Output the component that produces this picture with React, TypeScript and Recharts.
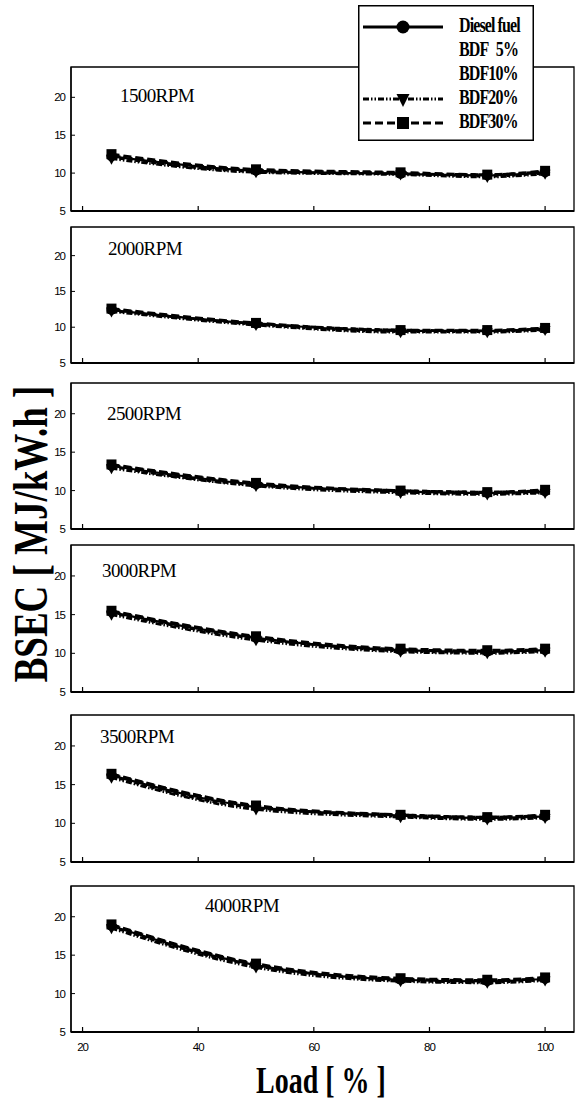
import React from "react"
import { LineChart, Line, XAxis, YAxis, Legend, ReferenceArea } from "recharts"

const loads = [25, 50, 75, 90, 100]
const fuels = ["Diesel fuel", "BDF 5%", "BDF10%", "BDF20%", "BDF30%"]
const rpmLabels = ["1500RPM", "2000RPM", "2500RPM", "3000RPM", "3500RPM", "4000RPM"]
const xTicks = [20, 40, 60, 80, 100]
const yTicks = [5, 10, 15, 20]

// BSEC [MJ/kW.h], one row per fuel (same order as `fuels`), one column per load
const bsec1500 = [
  [12.2, 10.3, 9.9, 9.7, 10.1],
  [12.3, 10.4, 10.0, 9.6, 10.0],
  [12.1, 10.2, 9.9, 9.8, 10.2],
  [11.9, 10.1, 9.8, 9.5, 9.9],
  [12.5, 10.5, 10.1, 9.8, 10.3],
]
const bsec2000 = [
  [12.4, 10.5, 9.5, 9.5, 9.8],
  [12.5, 10.4, 9.4, 9.4, 9.7],
  [12.3, 10.5, 9.6, 9.5, 9.8],
  [12.2, 10.3, 9.3, 9.3, 9.6],
  [12.6, 10.6, 9.6, 9.6, 9.9],
]
const bsec2500 = [
  [13.2, 10.8, 9.9, 9.7, 9.9],
  [13.3, 10.9, 9.8, 9.6, 9.8],
  [13.1, 10.7, 10.0, 9.8, 10.0],
  [12.9, 10.6, 9.7, 9.5, 9.7],
  [13.4, 11.0, 10.0, 9.8, 10.1],
]
const bsec3000 = [
  [15.3, 12.0, 10.4, 10.2, 10.4],
  [15.4, 12.1, 10.3, 10.1, 10.3],
  [15.2, 11.9, 10.5, 10.3, 10.5],
  [15.0, 11.7, 10.2, 10.0, 10.2],
  [15.5, 12.2, 10.6, 10.4, 10.6],
]
const bsec3500 = [
  [16.2, 12.1, 11.0, 10.7, 10.9],
  [16.3, 12.2, 10.9, 10.6, 10.8],
  [16.1, 12.0, 11.1, 10.8, 11.0],
  [15.9, 11.8, 10.8, 10.5, 10.7],
  [16.4, 12.3, 11.1, 10.8, 11.1],
]
const bsec4000 = [
  [18.8, 13.7, 11.8, 11.6, 11.9],
  [18.9, 13.8, 11.7, 11.5, 11.8],
  [18.7, 13.6, 11.9, 11.7, 12.0],
  [18.5, 13.4, 11.6, 11.4, 11.7],
  [19.0, 13.9, 12.0, 11.8, 12.1],
]
const panelData = [bsec1500, bsec2000, bsec2500, bsec3000, bsec3500, bsec4000]

const X_DOMAIN = [18, 105]
const Y_DOMAIN = [5, 24]

// panel frames on the page (plot box top / bottom) and label spots
const panelTops = [67, 227, 383, 545, 715, 886]
const panelBottoms = [211, 363, 529, 692, 862, 1032]
const labelPos = [
  [120, 35],
  [108, 28],
  [107, 37],
  [102, 32],
  [100, 28],
  [205, 26],
]

const W = 576
const PLOT_LEFT = 71
const PLOT_RIGHT = 574

const squareDot = (p: any) => (
  <rect key={`sq-${p.index}`} x={p.cx - 5} y={p.cy - 5} width={10} height={10} fill="#000" />
)
const triDot = (p: any) => (
  <path
    key={`tr-${p.index}`}
    d={`M${p.cx - 5.5},${p.cy - 4}L${p.cx + 5.5},${p.cy - 4}L${p.cx},${p.cy + 6}Z`}
    fill="#000"
  />
)

const seriesStyle = [
  { dash: undefined, dot: { r: 5, fill: "#000", stroke: "#000", strokeWidth: 0 } as any },
  { dash: "3 3", dot: false as any },
  { dash: "5 3", dot: false as any },
  { dash: "6 2 1.5 2 1.5 2", dot: triDot as any },
  { dash: "8 4", dot: squareDot as any },
]

const YTick = (props: any) => {
  const { x, y, payload } = props
  const ax = x + 5
  return (
    <g>
      <line x1={ax} x2={ax + 4} y1={y} y2={y} stroke="#000" strokeWidth={1} />
      <text
        x={x - 1}
        y={y}
        dy={4}
        textAnchor="end"
        fontFamily="'Liberation Sans', Arial, sans-serif"
        fontSize={11.5}
        letterSpacing={-1}
        fill="#000"
      >
        {payload.value}
      </text>
    </g>
  )
}

const makeXTick = (showLabel: boolean) => (props: any) => {
  const { x, y, payload } = props
  const ay = y - 8
  return (
    <g>
      <line x1={x} x2={x} y1={ay} y2={ay - 5} stroke="#000" strokeWidth={1.2} />
      {showLabel && (
        <text
          x={x}
          y={ay + 19}
          textAnchor="middle"
          fontFamily="'Liberation Sans', Arial, sans-serif"
          fontSize={11.5}
          letterSpacing={-1}
          fill="#000"
        >
          {payload.value}
        </text>
      )}
    </g>
  )
}

const LegendBox = () => {
  const rowY = [22, 46, 70, 94, 118]
  return (
    <svg width={176} height={136} style={{ display: "block" }}>
      <rect x={0.75} y={0.75} width={174.5} height={134.5} fill="#fff" stroke="#000" strokeWidth={1.5} />
      {fuels.map((f, i) => {
        const s = seriesStyle[i]
        const cy = rowY[i]
        const showLine = i === 0 || i >= 3
        return (
          <g key={f}>
            {showLine && (
              <line x1={5} x2={85} y1={cy} y2={cy} stroke="#000" strokeWidth={3} strokeDasharray={s.dash} />
            )}
            {i === 0 && <circle cx={45} cy={cy} r={6.5} fill="#000" />}
            {i === 3 && <path d={`M${38.5},${cy - 5}L${51.5},${cy - 5}L45,${cy + 8}Z`} fill="#000" />}
            {i === 4 && <rect x={39} y={cy - 6} width={12} height={12} fill="#000" />}
            <text
              transform={`translate(101,${cy + 5}) scale(1,1.3)`}
              fontFamily="'Liberation Serif', 'Times New Roman', serif"
              fontWeight="bold"
              fontSize={16}
              letterSpacing={-0.9}
              wordSpacing={i === 1 ? 5 : 0}
              fill="#000"
            >
              {f}
            </text>
          </g>
        )
      })}
    </svg>
  )
}

function Panel({ idx }: { idx: number }) {
  const rows = panelData[idx]
  const data = loads.map((load, i) => {
    const row: Record<string, number> = { load }
    rows.forEach((r, k) => {
      row[`f${k}`] = r[i]
    })
    return row
  })
  const pTop = panelTops[idx]
  const pBottom = panelBottoms[idx]
  const chartTop = idx === 0 ? 0 : pTop - 6
  const height = pBottom - chartTop + 30
  const isLast = idx === panelData.length - 1
  const [lx, ly] = labelPos[idx]

  return (
    <div style={{ position: "absolute", left: 0, top: chartTop, width: W, height }}>
      <LineChart
        width={W}
        height={height}
        data={data}
        margin={{ top: pTop - chartTop, right: W - PLOT_RIGHT, bottom: 8, left: 0 }}
      >
        <XAxis
          dataKey="load"
          type="number"
          domain={X_DOMAIN}
          ticks={xTicks}
          allowDataOverflow
          height={22}
          tickSize={0}
          tickMargin={8}
          tickLine={false}
          tick={makeXTick(isLast)}
          axisLine={{ stroke: "#000", strokeWidth: 2 }}
        />
        <YAxis
          type="number"
          domain={Y_DOMAIN}
          ticks={yTicks}
          allowDataOverflow
          width={PLOT_LEFT}
          tickSize={0}
          tickMargin={5}
          tickLine={false}
          tick={<YTick />}
          axisLine={{ stroke: "#000", strokeWidth: 1.3 }}
        />
        <ReferenceArea
          x1={X_DOMAIN[0]}
          x2={X_DOMAIN[1]}
          y1={Y_DOMAIN[0]}
          y2={Y_DOMAIN[1]}
          fill="none"
          fillOpacity={0}
          stroke="#000"
          strokeWidth={1.3}
          ifOverflow="visible"
        />
        {fuels.map((f, k) => (
          <Line
            key={f}
            name={f}
            dataKey={`f${k}`}
            type="monotone"
            stroke="#000"
            strokeWidth={k === 0 ? 2.2 : 2.8}
            strokeDasharray={seriesStyle[k].dash}
            dot={seriesStyle[k].dot}
            activeDot={false}
            isAnimationActive={false}
          />
        ))}
        <text
          x={lx}
          y={pTop - chartTop + ly}
          fontFamily="'Liberation Serif', 'Times New Roman', serif"
          fontSize={19}
          letterSpacing={-0.6}
          fill="#000"
        >
          {rpmLabels[idx]}
        </text>
        {idx === 0 && (
          <Legend
            layout="vertical"
            align="center"
            verticalAlign="middle"
            content={() => <LegendBox />}
            wrapperStyle={{ left: 358, top: 5, width: 176, height: 136 }}
          />
        )}
      </LineChart>
    </div>
  )
}

export default function App() {
  return (
    <div style={{ position: "absolute", left: 0, top: 0, width: W, height: 1100, background: "#fff" }}>
      {panelData.map((_, i) => (
        <Panel key={rpmLabels[i]} idx={i} />
      ))}
      <svg
        width={W}
        height={1100}
        style={{ position: "absolute", left: 0, top: 0, pointerEvents: "none" }}
      >
        <text
          transform="translate(47,534) rotate(-90) scale(1,1.3)"
          textAnchor="middle"
          fontFamily="'Liberation Serif', 'Times New Roman', serif"
          fontWeight="bold"
          fontSize={37}
          fill="#000"
        >
          BSEC [ MJ/kW.h ]
        </text>
        <text
          transform="translate(321,1093) scale(1,1.35)"
          textAnchor="middle"
          fontFamily="'Liberation Serif', 'Times New Roman', serif"
          fontWeight="bold"
          fontSize={28}
          fill="#000"
        >
          Load [ % ]
        </text>
      </svg>
    </div>
  )
}
